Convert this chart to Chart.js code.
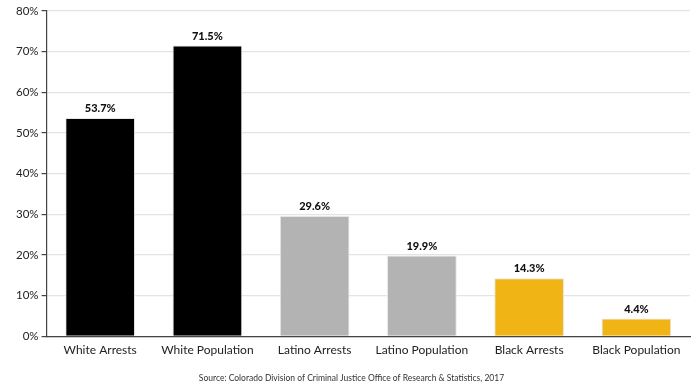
<!DOCTYPE html>
<html>
<head>
<meta charset="utf-8">
<script src="https://cdn.jsdelivr.net/npm/chart.js@4"></script>
<style>
  html, body { margin: 0; padding: 0; background: #fff; }
  #wrap { width: 696px; height: 387px; position: relative; }
</style>
</head>
<body>
<div id="wrap"><canvas id="arrestsChart"></canvas></div>
<script>
// Share of arrests vs share of population, Colorado 2017
const groups = ['White Arrests', 'White Population', 'Latino Arrests', 'Latino Population', 'Black Arrests', 'Black Population'];
const shares = [53.7, 71.5, 29.6, 19.9, 14.3, 4.4];
const barColors = ['#000000', '#000000', '#b3b3b3', '#b3b3b3', '#f0b515', '#f0b515'];
const yTicks = [0, 10, 20, 30, 40, 50, 60, 70, 80];

// value labels above each bar
const valueLabels = {
    id: 'valueLabels',
    afterDatasetsDraw(chart) {
        const ctx = chart.ctx;
        const meta = chart.getDatasetMeta(0);
        ctx.save();
        ctx.font = '900 11px Lato, "Noto Sans", sans-serif';
        ctx.fillStyle = '#111';
        ctx.textAlign = 'center';
        ctx.textBaseline = 'bottom';
        meta.data.forEach((bar, i) => {
            ctx.fillText(shares[i].toFixed(1) + '%', bar.x, bar.y - 4);
        });
        ctx.restore();
    }
};

const ctx = document.getElementById('arrestsChart').getContext('2d');
const arrestsChart = new Chart(ctx, {
    type: 'bar',
    data: {
        labels: groups,
        datasets: [{
            data: shares,
            backgroundColor: barColors,
            borderColor: '#e6e6e6',
            borderWidth: 1,
            categoryPercentage: 0.65,
            barPercentage: 1
        }]
    },
    options: {
        responsive: true,
        maintainAspectRatio: false,
        animation: false,
        layout: { padding: { top: 11, right: 6, left: 13, bottom: 0 } },
        plugins: {
            legend: { display: false },
            tooltip: { enabled: false },
            subtitle: {
                display: true,
                position: 'bottom',
                text: 'Source: Colorado Division of Criminal Justice Office of Research & Statistics, 2017',
                color: '#333',
                font: { family: 'Lato, "Noto Sans", sans-serif', size: 8.5 },
                padding: { top: 13, bottom: 4 }
            }
        },
        scales: {
            x: {
                grid: { display: false, drawOnChartArea: false, drawTicks: true, tickLength: 5, color: '#444' },
                border: { color: '#444', width: 1.2 },
                ticks: {
                    color: '#222',
                    font: { family: 'Lato, "Noto Sans", sans-serif', size: 12 },
                    padding: 2,
                    maxRotation: 0
                }
            },
            y: {
                min: 0,
                max: 80,
                afterBuildTicks(axis) { axis.ticks = yTicks.map(v => ({ value: v })); },
                grid: { color: '#e4e4e4', lineWidth: 1.2, tickLength: 5, tickColor: '#444' },
                border: { color: '#444', width: 1.2 },
                ticks: {
                    color: '#222',
                    font: { family: 'Lato, "Noto Sans", sans-serif', size: 11.5 },
                    padding: 3,
                    callback: v => v + '%'
                }
            }
        }
    },
    plugins: [valueLabels]
});
</script>
</body>
</html>
